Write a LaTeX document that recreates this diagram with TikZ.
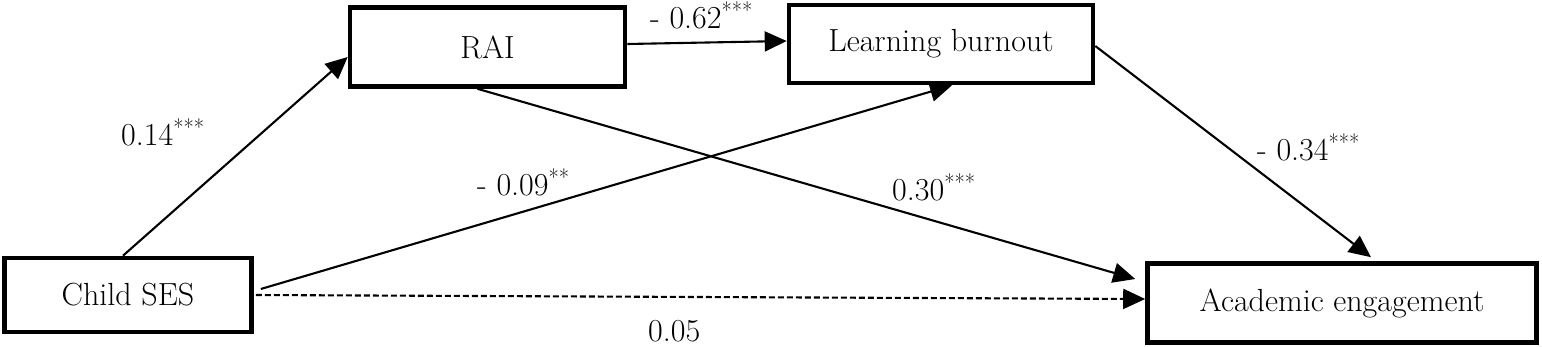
\documentclass[tikz,border=0pt]{standalone}
\usetikzlibrary{arrows.meta,calc}
\begin{document}
\begin{tikzpicture}[x=1pt,y=-1pt,
  box/.style={draw=black,line width=4.6pt,rectangle,inner sep=0pt,font=\fontsize{32}{38}\selectfont},
  path/.style={line width=2.1pt,-{Triangle[length=22pt,width=20pt]}},
  dpath/.style={path,dash pattern=on 6pt off 3pt},
  lbl/.style={font=\fontsize{32}{38}\selectfont,inner sep=0pt,anchor=base west}]
\useasboundingbox (0,0) rectangle (1542,346);
\node[box,minimum width=275pt,minimum height=79pt] (rai) at (487.5,47) {RAI};
\node[box,minimum width=304pt,minimum height=78pt] (lb) at (941,44) {Learning burnout};
\node[box,minimum width=247pt,minimum height=74pt] (ses) at (128,295) {Child SES};
\node[box,minimum width=389pt,minimum height=79pt] (ae) at (1342,303) {Academic engagement};
\draw[path] ([xshift=-5pt]ses.north) -- ([yshift=-10pt]rai.west);
\draw[path] ([yshift=3pt]rai.east) -- ([yshift=3pt]lb.west);
\draw[path] ([shift={(7pt,6pt)}]ses.east) -- ([xshift=11pt]lb.south);
\draw[path] ([xshift=-10pt]rai.south) -- ([shift={(-10pt,24pt)}]ae.west);
\draw[path] ([yshift=-2pt]lb.east) -- ([shift={(29pt,4pt)}]ae.north);
\draw[dpath] ([xshift=2pt]ses.east) -- ([yshift=4pt]ae.west);
\node[lbl] (l1) at (121,145) {0.14\textsuperscript{***}};
\node[lbl] (l2) at (650,28) {- 0.62\textsuperscript{***}};
\node[lbl] (l3) at (477,195) {- 0.09\textsuperscript{**}};
\node[lbl] (l4) at (892,200) {0.30\textsuperscript{***}};
\node[lbl] (l5) at (1257,160) {- 0.34\textsuperscript{***}};
\node[lbl] (l6) at (648,341) {0.05};
\end{tikzpicture}
\end{document}
